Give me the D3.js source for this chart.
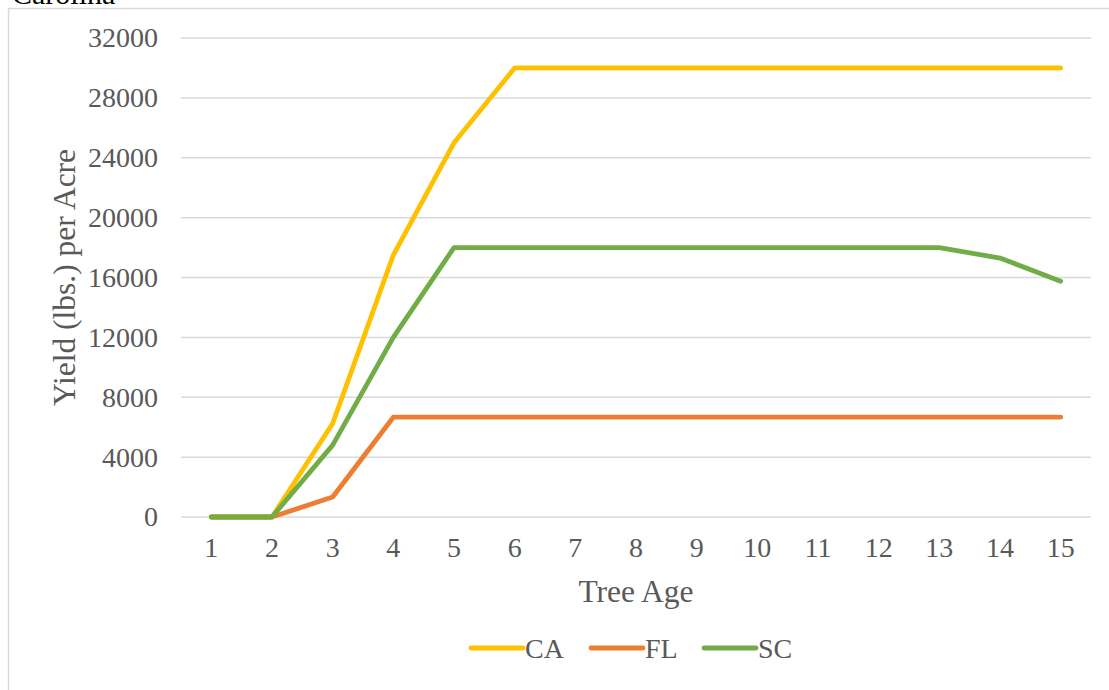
<!DOCTYPE html>
<html>
<head>
<meta charset="utf-8">
<script src="https://cdn.jsdelivr.net/npm/d3@7"></script>
<style>
  html, body { margin: 0; padding: 0; background: #fff; }
  svg { display: block; }
  text { font-family: "Liberation Serif", "Times New Roman", serif; }
</style>
</head>
<body>
<svg id="chart" width="1109" height="690"></svg>
<script>
// Tree age categories and yield per acre (lbs.) by state
const ages = [1, 2, 3, 4, 5, 6, 7, 8, 9, 10, 11, 12, 13, 14, 15];
const caYield = [0, 0, 6250, 17500, 25000, 30000, 30000, 30000, 30000, 30000, 30000, 30000, 30000, 30000, 30000];
const flYield = [0, 0, 1333, 6667, 6667, 6667, 6667, 6667, 6667, 6667, 6667, 6667, 6667, 6667, 6667];
const scYield = [0, 0, 4800, 12000, 18000, 18000, 18000, 18000, 18000, 18000, 18000, 18000, 18000, 17300, 15750];
const yTicks = [0, 4000, 8000, 12000, 16000, 20000, 24000, 28000, 32000];
const seriesNames = ["CA", "FL", "SC"];
const seriesColors = ["#FFC000", "#ED7D31", "#70AD47"];

const series = seriesNames.map((name, i) => ({
  name,
  color: seriesColors[i],
  values: [caYield, flYield, scYield][i]
}));

const svg = d3.select("#chart");
const plot = { left: 181, right: 1091, top: 38, bottom: 517 };

// Chart area frame and the partially visible caption above it
svg.append("rect")
  .attr("x", 8.5).attr("y", 8.5)
  .attr("width", 1200).attr("height", 1000)
  .attr("fill", "#fff").attr("stroke", "#d9d9d9").attr("stroke-width", 1.5);

svg.append("text")
  .attr("x", 12).attr("y", 4)
  .attr("font-size", 30).attr("fill", "#000")
  .text("Carolina");

const x = d3.scaleBand().domain(ages).range([plot.left, plot.right]);
const y = d3.scaleLinear().domain([0, 32000]).range([plot.bottom, plot.top]);
const xc = d => x(d) + x.bandwidth() / 2;

// Horizontal gridlines
svg.append("g")
  .selectAll("line")
  .data(yTicks)
  .join("line")
  .attr("x1", plot.left).attr("x2", plot.right)
  .attr("y1", d => y(d)).attr("y2", d => y(d))
  .attr("stroke", "#d9d9d9").attr("stroke-width", 1.5);

// Y axis tick labels
const yAxis = svg.append("g")
  .attr("transform", `translate(${plot.left - 23},0)`)
  .call(d3.axisLeft(y).tickValues(yTicks).tickSize(0).tickPadding(0).tickFormat(d3.format("d")));
yAxis.select(".domain").remove();
yAxis.selectAll("text")
  .attr("font-size", 28).attr("fill", "#595959")
  .attr("font-family", "Liberation Serif, Times New Roman, serif");

// X axis tick labels
const xAxis = svg.append("g")
  .attr("transform", `translate(0,${plot.bottom + 20})`)
  .call(d3.axisBottom(x).tickSize(0).tickPadding(0));
xAxis.select(".domain").remove();
xAxis.selectAll("text")
  .attr("font-size", 28).attr("fill", "#595959")
  .attr("font-family", "Liberation Serif, Times New Roman, serif");

// Axis titles
svg.append("text")
  .attr("x", (plot.left + plot.right) / 2).attr("y", 602)
  .attr("text-anchor", "middle")
  .attr("font-size", 31.5).attr("fill", "#595959")
  .text("Tree Age");

svg.append("text")
  .attr("transform", `translate(75,${(plot.top + plot.bottom) / 2}) rotate(-90)`)
  .attr("text-anchor", "middle")
  .attr("font-size", 31.5).attr("fill", "#595959")
  .text("Yield (lbs.) per Acre");

// Series lines
const line = d3.line()
  .x((d, i) => xc(ages[i]))
  .y(d => y(d));

svg.append("g")
  .selectAll("path")
  .data(series)
  .join("path")
  .attr("d", d => line(d.values))
  .attr("fill", "none")
  .attr("stroke", d => d.color)
  .attr("stroke-width", 4.8)
  .attr("stroke-linejoin", "round")
  .attr("stroke-linecap", "round");

// Legend
const legendX = [471, 591, 704];
const legend = svg.append("g")
  .selectAll("g")
  .data(series)
  .join("g")
  .attr("transform", (d, i) => `translate(${legendX[i]},648)`);
legend.append("line")
  .attr("x1", 0).attr("x2", 52)
  .attr("stroke", d => d.color)
  .attr("stroke-width", 4.8)
  .attr("stroke-linecap", "round");
legend.append("text")
  .attr("x", 54).attr("y", 10)
  .attr("font-size", 28).attr("fill", "#595959")
  .text(d => d.name);
</script>
</body>
</html>
